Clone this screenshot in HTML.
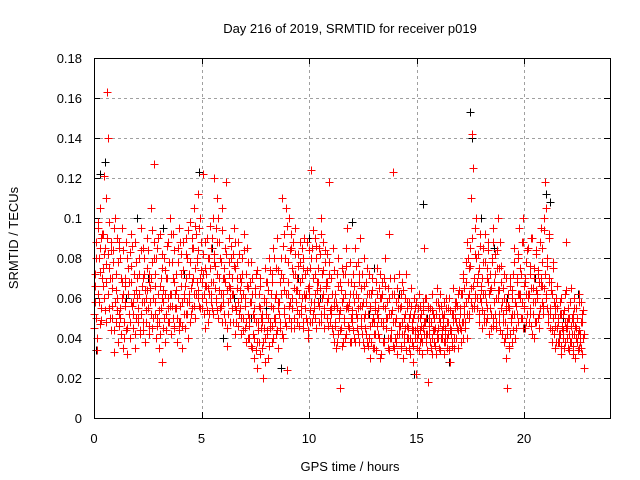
<!DOCTYPE html>
<html><head><meta charset="utf-8"><style>
body{margin:0;background:#fff;}
svg{display:block;font-family:"Liberation Sans",sans-serif;}
</style></head><body>
<svg id="chart" width="640" height="480">
<text x="350" y="33" text-anchor="middle" font-size="13">Day 216 of 2019, SRMTID for receiver p019</text>
<text transform="translate(18,238) rotate(-90)" text-anchor="middle" font-size="13">SRMTID / TECUs</text>
<text x="350" y="471" text-anchor="middle" font-size="13">GPS time / hours</text>
<g id="grid"></g>
<g id="ticks"></g>
<g id="black"></g>
<g id="red"></g>
<rect x="94.5" y="58.5" width="516" height="360" fill="none" stroke="#000" stroke-width="1" shape-rendering="crispEdges"/>
</svg>
<script>
const xTicks=[0,5,10,15,20];
const yTicks=[0,0.02,0.04,0.06,0.08,0.1,0.12,0.14,0.16,0.18];
const yTickLabels=["0","0.02","0.04","0.06","0.08","0.1","0.12","0.14","0.16","0.18"];
const binStart=0, binWidth=0.2;
const redMilli=[
[45,58,72,88,50,34,95],[62,80,105,47,90,55,70],[75,92,121,60,85,48,68],[163,140,82,55,98,70,44],[88,65,50,78,95,33,58],
[72,48,90,60,38,85,52],[55,80,42,68,95,35,62],[48,70,58,88,45,32,75],[62,52,83,40,68,92,56],[58,45,72,35,88,64,50],
[70,55,48,80,62,42,95],[52,66,85,44,58,72,38],[60,48,75,90,55,68,42],[65,105,52,78,45,60,88],[127,58,72,40,85,50,62],
[48,35,66,92,55,75,28],[58,45,80,62,38,70,52],[70,55,88,48,62,100,42],[62,78,50,92,45,68,55],[55,72,38,85,60,48,95],
[48,66,82,35,58,74,52],[60,45,90,70,52,80,40],[72,58,98,48,65,85,55],[85,62,105,50,75,92,68],[78,112,60,95,55,70,88],
[68,55,82,122,62,45,75],[58,72,90,48,65,80,52],[75,62,85,55,100,68,120],[82,65,95,58,72,110,50],[70,88,55,78,62,105,48],
[62,75,52,85,68,118,45],[36,58,72,90,65,48,80],[70,55,82,62,95,42,75],[48,65,78,58,88,52,70],[55,42,68,80,50,62,92],
[45,60,72,38,85,52,65],[50,40,68,58,78,35,62],[42,55,30,65,48,72,38],[25,48,62,38,55,70,45],[52,35,20,60,45,75,40],
[58,42,68,50,30,80,48],[45,62,38,72,55,85,50],[60,48,75,42,90,55,35],[52,68,45,80,62,110,40],[70,55,92,48,105,62,24],
[62,78,50,100,58,85,45],[75,55,88,65,45,72,95],[58,70,48,82,62,52,78],[68,52,85,60,45,75,90],[55,72,62,48,88,65,40],
[62,48,75,58,124,85,52],[70,55,90,62,45,80,68],[58,75,48,85,65,100,52],[72,62,88,55,45,78,68],[65,50,82,60,118,72,48],
[55,70,45,62,85,38,58],[48,62,35,72,55,80,42],[52,15,68,45,58,75,38],[60,48,72,40,85,55,95],[55,68,45,78,62,50,38],
[48,62,72,40,58,85,52],[62,45,78,55,68,38,90],[50,65,42,72,58,35,80],[45,58,68,38,75,52,62],[40,55,30,62,48,70,35],
[48,35,58,42,68,52,75],[55,42,65,30,72,48,60],[62,48,38,70,55,80,45],[45,58,35,65,52,92,40],[52,40,62,123,48,70,35],
[48,58,38,65,42,55,72],[42,55,35,62,48,68,30],[50,38,60,45,72,55,40],[45,58,35,52,40,65,48],[38,50,28,60,44,55,22],
[45,35,55,42,62,50,38],[40,52,32,58,45,85,48],[48,38,60,42,55,18,50],[42,55,35,48,62,40,52],[50,38,45,58,32,65,42],
[45,55,35,48,62,40,52],[40,50,32,58,45,38,55],[48,35,55,42,60,45,28],[42,52,38,48,65,35,55],[50,40,58,45,35,62,48],
[45,55,38,62,48,70,40],[52,65,45,78,58,40,88],[60,75,50,85,65,110,55],[142,125,70,55,95,62,80],[68,55,82,48,75,92,60],
[58,70,45,85,62,52,78],[62,48,75,55,88,68,42],[55,72,45,65,80,50,95],[68,52,82,60,45,75,100],[60,75,48,88,55,68,42],
[52,65,38,72,48,58,30],[15,45,62,35,55,70,42],[48,60,38,72,52,85,40],[58,45,70,52,80,62,95],[62,75,50,88,58,100,45],
[55,68,45,78,62,52,85],[60,48,72,55,90,65,42],[52,65,40,75,58,48,82],[62,50,72,45,68,55,95],[70,58,85,52,100,65,118],
[62,105,55,80,48,92,70],[55,45,68,38,62,50,75],[42,52,35,60,45,55,38],[48,38,58,42,32,52,45],[40,52,35,48,62,45,88],
[45,35,55,42,50,38,65],[38,50,32,48,42,55,30],[45,55,38,50,42,62,35],[42,58,35,48,52,40,25]
];
const redMilliB=[
[52,66,80,40,98],[58,85,73,49,92],[66,82,54,110,77],[90,62,75,50,84],[70,56,84,44,100],
[64,54,78,46,88],[50,70,60,84,40],[56,66,44,80,62],[68,48,76,58,86],[52,62,42,78,70],
[60,50,72,44,84],[58,70,48,80,64],[54,64,84,46,72],[58,70,94,50,80],[66,52,80,46,90],
[54,42,70,60,82],[64,50,74,44,86],[60,48,78,56,92],[56,70,46,84,62],[64,50,78,44,88],
[56,72,46,88,62],[66,52,82,58,94],[62,78,52,90,68],[70,56,96,62,80],[64,84,56,100,74],
[60,72,52,88,66],[66,54,80,62,96],[68,58,90,52,78],[76,60,88,54,100],[64,80,56,94,70],
[58,70,48,82,64],[52,66,78,60,86],[62,48,76,56,88],[54,70,46,82,64],[50,60,72,44,84],
[56,48,66,40,78],[46,58,36,70,52],[50,40,62,34,74],[44,56,32,66,50],[48,38,58,28,68],
[52,44,64,36,74],[56,46,68,40,80],[50,62,44,74,58],[58,48,72,42,86],[64,52,80,46,96],
[68,56,84,48,92],[60,72,50,82,64],[64,54,76,46,88],[56,70,48,80,62],[60,50,74,44,84],
[66,54,80,48,94],[58,72,50,86,64],[68,56,82,48,92],[60,74,52,84,66],[58,68,46,78,54],
[52,62,42,74,56],[46,58,38,66,50],[54,44,64,36,72],[50,62,42,76,56],[46,58,38,68,52],
[54,44,66,38,76],[50,60,42,72,56],[46,56,38,66,50],[52,42,62,36,72],[46,56,38,64,50],
[42,54,34,62,46],[50,40,60,32,68],[46,56,38,66,50],[50,40,60,34,70],[44,54,36,62,48],
[40,50,32,60,46],[46,36,56,42,64],[42,52,34,58,46],[40,50,32,56,44],[44,36,52,40,58],
[40,50,34,56,44],[46,38,54,42,60],[42,50,34,56,46],[38,48,32,54,44],[44,36,52,40,58],
[40,50,34,56,44],[46,38,52,42,60],[40,48,34,54,44],[44,36,52,40,58],[48,40,56,44,64],
[52,44,62,48,72],[56,48,68,52,80],[62,52,76,58,90],[66,56,82,60,100],[60,72,52,86,66],
[64,54,78,48,92],[58,70,50,84,62],[64,52,78,46,88],[58,72,48,84,64],[52,64,44,76,58],
[48,60,40,70,54],[42,56,36,66,50],[52,64,44,78,58],[56,68,48,82,62],[60,72,50,88,66],
[56,70,48,84,62],[62,52,76,46,90],[58,70,48,84,64],[60,74,52,88,66],[66,78,56,94,72],
[60,76,52,90,68],[52,64,44,78,58],[46,56,38,66,50],[42,52,36,60,46],[44,54,38,64,48],
[40,50,34,58,46],[42,52,36,60,46],[40,50,34,58,44],[38,48,32,54,42]
];
const blackHours=[0.1,0.3,0.5,1.5,2.5,3.2,4.2,4.9,5.5,6.5,7.3,8.0,8.7,9.5,10.5,11.5,12.0,12.8,13.5,14.2,14.9,15.3,16.0,16.5,17.5,17.6,18.0,18.6,19.2,20.0,20.5,21.0,21.2,21.8,22.5,2.0,6.0,10.0,13.0,15.5];
const blackMilli=[34,122,128,60,70,95,72,123,85,60,50,55,25,70,60,45,98,52,40,62,22,107,45,28,153,140,100,85,60,45,70,112,108,50,62,100,40,90,75,50];

const NS="http://www.w3.org/2000/svg";
const X=h=>94+h*(516/24);
const Y=v=>418-v*(360/0.18);
function mk(tag,attrs,parent){const e=document.createElementNS(NS,tag);for(const k in attrs)e.setAttribute(k,attrs[k]);parent.appendChild(e);return e;}
const grid=document.getElementById('grid'),ticks=document.getElementById('ticks');
xTicks.forEach(t=>{
  const x=Math.round(X(t))+0.5;
  if(t>0){const g=mk('line',{x1:x,x2:x,y1:58,y2:418,stroke:'#a0a0a0','stroke-dasharray':'3,3','shape-rendering':'crispEdges'},grid);
  
  }
  mk('line',{x1:x,x2:x,y1:418,y2:412,stroke:'#000','shape-rendering':'crispEdges'},ticks);
  mk('line',{x1:x,x2:x,y1:58,y2:64,stroke:'#000','shape-rendering':'crispEdges'},ticks);
  const l=mk('text',{x:X(t),y:443,'text-anchor':'middle','font-size':13},ticks);l.textContent=t;
  
  
});
yTicks.forEach((t,i)=>{
  const y=Math.round(Y(t))+0.5;
  if(i>0&&i<yTicks.length-1){const g=mk('line',{x1:94,x2:610,y1:y,y2:y,stroke:'#a0a0a0','stroke-dasharray':'3,3','shape-rendering':'crispEdges'},grid);
  
  }
  mk('line',{x1:94,x2:100,y1:y,y2:y,stroke:'#000','shape-rendering':'crispEdges'},ticks);
  mk('line',{x1:610,x2:604,y1:y,y2:y,stroke:'#000','shape-rendering':'crispEdges'},ticks);
  const l=mk('text',{x:82,y:Y(t)+5,'text-anchor':'end','font-size':13},ticks);l.textContent=yTickLabels[i];
  
  
});
function plus(g,h,v,color){
  const x=Math.round(X(h))+0.5,y=Math.round(Y(v))+0.5;
  const p=mk('path',{d:`M${x-4},${y}H${x+4}M${x},${y-4}V${y+4}`,stroke:color,'stroke-width':1,fill:'none','shape-rendering':'crispEdges'},g);
  
  
}
const bg=document.getElementById('black');
blackHours.forEach((h,i)=>plus(bg,h,blackMilli[i]/1000,'#000'));
const rg=document.getElementById('red');
redMilli.forEach((bin,b)=>bin.forEach((m,j)=>plus(rg,binStart+b*binWidth+j*binWidth/bin.length,m/1000,'#ff0000')));
redMilliB.forEach((bin,b)=>bin.forEach((m,j)=>plus(rg,binStart+b*binWidth+(j+0.5)*binWidth/bin.length,m/1000,'#ff0000')));
</script>
</body></html>
